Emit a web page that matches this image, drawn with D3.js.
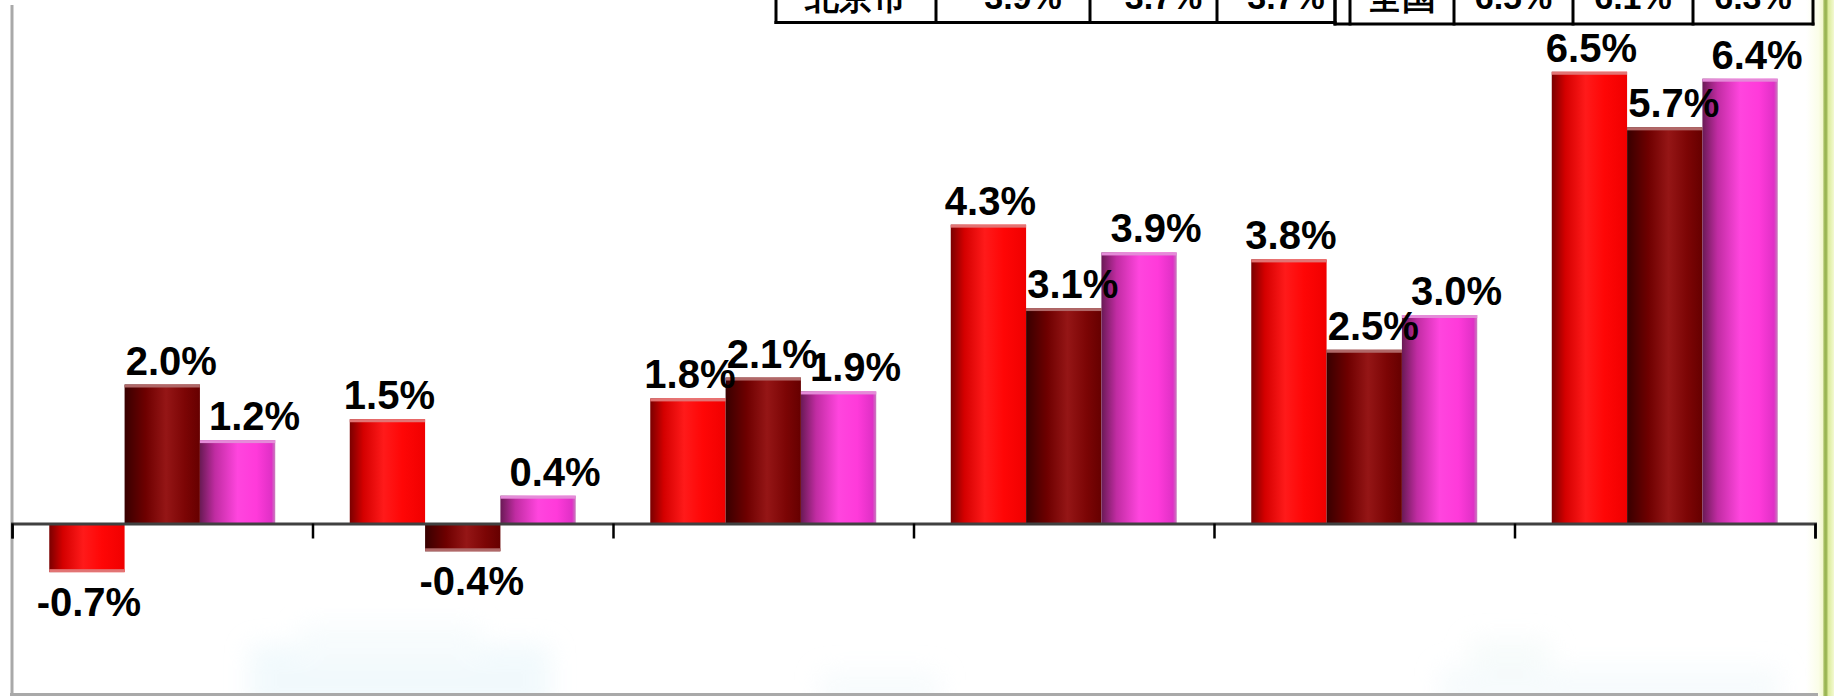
<!DOCTYPE html>
<html>
<head>
<meta charset="utf-8">
<script src="https://cdn.jsdelivr.net/npm/d3@7"></script>
<style>
  html, body { margin: 0; padding: 0; background: #ffffff; overflow: hidden; }
  svg { display: block; }
  text { font-family: "Liberation Sans", Arial, sans-serif; font-weight: bold; fill: #000; }
</style>
</head>
<body>
<svg id="chart" width="1834" height="696"></svg>
<script>
// ---------------- data ----------------
const categories = ["G1", "G2", "G3", "G4", "G5", "G6"];
const seriesNames = ["S1", "S2", "S3"];
const series1 = [-0.7, 1.5, 1.8, 4.3, 3.8, 6.5];
const series2 = [2.0, -0.4, 2.1, 3.1, 2.5, 5.7];
const series3 = [1.2, 0.4, 1.9, 3.9, 3.0, 6.4];
const table1Cells = ["北京市", "3.9%", "3.7%", "3.7%"];
const table2Cells = ["", "全国", "6.5%", "6.1%", "6.3%"];

// ---------------- setup ----------------
const W = 1834, H = 696;
const svg = d3.select("#chart");
const defs = svg.append("defs");

function grad(id, stops) {
  const g = defs.append("linearGradient").attr("id", id)
    .attr("x1", "0%").attr("x2", "100%").attr("y1", "0%").attr("y2", "0%");
  stops.forEach(s => g.append("stop").attr("offset", s[0]).attr("stop-color", s[1]));
}
grad("gRed",  [["0%", "#7a0000"], ["18%", "#d40000"], ["45%", "#ff1a1a"], ["70%", "#ff0606"], ["100%", "#f00000"]]);
grad("gDark", [["0%", "#380000"], ["28%", "#6e0000"], ["55%", "#951616"], ["80%", "#7c0505"], ["100%", "#660000"]]);
grad("gPink", [["0%", "#6a1a55"], ["20%", "#c02ca2"], ["50%", "#ff45de"], ["75%", "#ff3ada"], ["95%", "#e030c6"], ["100%", "#c77fbd"]]);
grad("gEdge", [["0%", "#ffffff"], ["45%", "#fbfde8"], ["60%", "#f2f8cf"], ["64%", "#a8c064"], ["72%", "#94b04c"], ["80%", "#dcec9c"], ["100%", "#f3f9d2"]]);
const fills = ["url(#gRed)", "url(#gDark)", "url(#gPink)"];
const caps = ["#e27474", "#b06868", "#e48bd8"];
const labelDx = [2, 9, 17];

const blur = defs.append("filter").attr("id", "blur").attr("x", "-20%").attr("y", "-20%").attr("width", "140%").attr("height", "140%");
blur.append("feGaussianBlur").attr("stdDeviation", 12);

// faint background watermark
const wm = svg.append("g").attr("filter", "url(#blur)").attr("opacity", 0.5);
wm.append("rect").attr("x", 250).attr("y", 645).attr("width", 300).attr("height", 70).attr("fill", "#e4f4fa");
wm.append("rect").attr("x", 300).attr("y", 625).attr("width", 180).attr("height", 40).attr("fill", "#eef8fb");
wm.append("rect").attr("x", 820).attr("y", 672).attr("width", 120).attr("height", 40).attr("fill", "#f0f8fb");
wm.append("rect").attr("x", 1470).attr("y", 640).attr("width", 80).attr("height", 60).attr("fill", "#eef8f6");
wm.append("rect").attr("x", 1440).attr("y", 668).attr("width", 340).attr("height", 40).attr("fill", "#eef7fa");

// right decorative edge
svg.append("rect").attr("x", 1806).attr("y", 0).attr("width", 28).attr("height", H).attr("fill", "url(#gEdge)");

// frame lines
svg.append("line").attr("x1", 12).attr("x2", 12).attr("y1", 5).attr("y2", H)
  .attr("stroke", "#a9a9a9").attr("stroke-width", 3);
svg.append("line").attr("x1", 10).attr("x2", 1818).attr("y1", 694.5).attr("y2", 694.5)
  .attr("stroke", "#a9a9a9").attr("stroke-width", 3);

// ---------------- scales ----------------
const x0 = 12, x1 = 1815;
const xCat = d3.scaleBand().domain(categories).range([x0, x1]).paddingInner(0.248).paddingOuter(0.124);
const xSer = d3.scaleBand().domain(seriesNames).range([0, xCat.bandwidth()]).padding(0);
const xEdge = d3.scaleLinear().domain([0, categories.length]).range([x0, x1]);
const y = d3.scaleLinear().domain([-1, 7]).range([593, 37]);

const data = categories.map((c, i) => ({
  cat: c,
  vals: [series1[i], series2[i], series3[i]].map((v, k) => ({ s: seriesNames[k], k, v }))
}));

// ---------------- bars ----------------
const groups = svg.append("g").selectAll("g").data(data).join("g")
  .attr("transform", d => `translate(${xCat(d.cat)},0)`);

groups.selectAll("rect.bar").data(d => d.vals).join("rect").attr("class", "bar")
  .attr("x", d => xSer(d.s))
  .attr("width", xSer.bandwidth())
  .attr("y", d => Math.min(y(d.v), y(0)))
  .attr("height", d => Math.abs(y(d.v) - y(0)))
  .attr("fill", d => fills[d.k]);

// light cap at the far end of each bar
groups.selectAll("rect.cap").data(d => d.vals).join("rect").attr("class", "cap")
  .attr("x", d => xSer(d.s))
  .attr("width", xSer.bandwidth())
  .attr("y", d => d.v >= 0 ? y(d.v) : y(d.v) - 3)
  .attr("height", 3)
  .attr("fill", d => caps[d.k]);

// ---------------- axis ----------------
const axis = d3.axisBottom(xEdge).tickValues(d3.range(0, categories.length + 1))
  .tickSize(15).tickFormat("");
const ax = svg.append("g").attr("transform", `translate(0,${y(0)})`).call(axis);
ax.select(".domain").attr("stroke", "#404040").attr("stroke-width", 3);
ax.selectAll(".tick line").attr("stroke", "#000").attr("stroke-width", 2.5);

// ---------------- labels ----------------
groups.selectAll("text.lbl").data(d => d.vals).join("text").attr("class", "lbl")
  .attr("x", d => xSer(d.s) + xSer.bandwidth() / 2 + labelDx[d.k])
  .attr("y", d => d.v >= 0 ? y(d.v) - 10 : y(d.v) + 44)
  .attr("text-anchor", "middle")
  .attr("font-size", 40)
  .text(d => (d.v < 0 ? "-" : "") + Math.abs(d.v).toFixed(1) + "%");

// ---------------- top tables (cut off by the page edge, as in the source) ----------------
const t1Edges = [776, 936, 1090, 1217, 1335];
const t2Edges = [1335, 1350, 1454, 1573, 1693, 1813];
function table(edges, cells, bottom, shift) {
  const g = svg.append("g");
  g.append("line").attr("x1", edges[0] - 1.5).attr("x2", edges[edges.length - 1] + 1.5)
    .attr("y1", bottom).attr("y2", bottom).attr("stroke", "#000").attr("stroke-width", 3);
  edges.forEach(e => g.append("line").attr("x1", e).attr("x2", e).attr("y1", 0).attr("y2", bottom + 1.5)
    .attr("stroke", "#000").attr("stroke-width", 3));
  cells.forEach((c, i) => g.append("text")
    .attr("x", (edges[i] + edges[i + 1]) / 2 + (i > 0 ? shift : 0))
    .attr("y", 9).attr("text-anchor", "middle").attr("font-size", 34).text(c));
}
table(t1Edges, table1Cells, 22.5, 10);
table(t2Edges, table2Cells, 24, 0);
</script>
</body>
</html>
